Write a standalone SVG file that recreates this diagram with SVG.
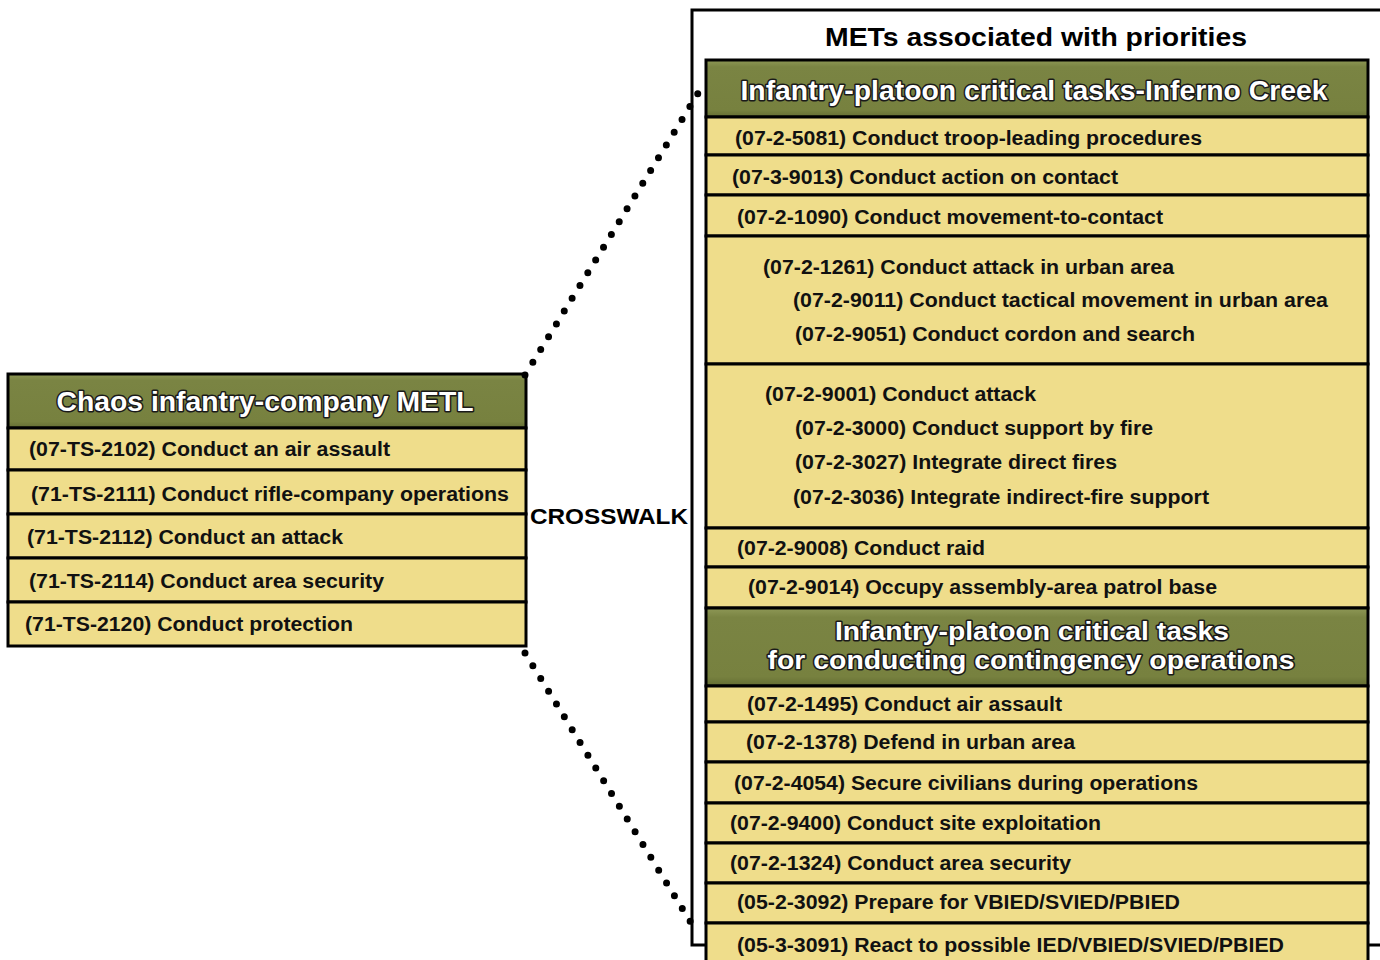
<svg xmlns="http://www.w3.org/2000/svg" width="1380" height="960" viewBox="0 0 1380 960">
  <defs>
    <linearGradient id="olive" x1="0" y1="0" x2="0" y2="1">
      <stop offset="0" stop-color="#8E9856"/>
      <stop offset="0.12" stop-color="#7A8443"/>
      <stop offset="0.88" stop-color="#77813F"/>
      <stop offset="1" stop-color="#646D33"/>
    </linearGradient>
    <style>
      .cell { fill: #EFDD8B; stroke: #000; stroke-width: 3; }
      .hdr { fill: url(#olive); stroke: #000; stroke-width: 3; }
      .frame { fill: none; stroke: #000; stroke-width: 3; }
      .t { font-family: "Liberation Sans", Arial, sans-serif; font-weight: bold; font-size: 20px; fill: #111; }
      .h { font-family: "Liberation Sans", Arial, sans-serif; font-weight: bold; font-size: 28px; fill: #fff; stroke: #1a1a1a; stroke-width: 3px; stroke-linejoin: round; paint-order: stroke; text-anchor: middle; }
      .h2 { font-size: 26px; }
      .title { font-family: "Liberation Sans", Arial, sans-serif; font-weight: bold; font-size: 26px; fill: #000; text-anchor: middle; }
      .lbl { font-family: "Liberation Sans", Arial, sans-serif; font-weight: bold; font-size: 22px; fill: #000; }
      .dots { fill: none; stroke: #000; stroke-width: 7; stroke-linecap: round; stroke-dasharray: 0 15; }
    </style>
  </defs>
  <rect width="1380" height="960" fill="#fff"/>

  <!-- outer frame around the platoon task column -->
  <g id="frame">
    <rect class="frame" x="692" y="10" width="700" height="935"/>
    <text class="title" x="1036" y="46" textLength="422" lengthAdjust="spacingAndGlyphs">METs associated with priorities</text>
  </g>

  <!-- company METL -->
  <g id="company-metl">
    <rect class="hdr" x="8" y="374" width="518" height="54"/>
    <text class="h" x="265" y="411" textLength="417" lengthAdjust="spacingAndGlyphs">Chaos infantry-company METL</text>
    <rect class="cell" x="8" y="428" width="518" height="42"/>
    <text class="t" x="29" y="456" textLength="361" lengthAdjust="spacingAndGlyphs">(07-TS-2102) Conduct an air assault</text>
    <rect class="cell" x="8" y="470" width="518" height="44"/>
    <text class="t" x="31" y="501" textLength="478" lengthAdjust="spacingAndGlyphs">(71-TS-2111) Conduct rifle-company operations</text>
    <rect class="cell" x="8" y="514" width="518" height="44"/>
    <text class="t" x="27" y="544" textLength="316" lengthAdjust="spacingAndGlyphs">(71-TS-2112) Conduct an attack</text>
    <rect class="cell" x="8" y="558" width="518" height="44"/>
    <text class="t" x="29" y="588" textLength="355" lengthAdjust="spacingAndGlyphs">(71-TS-2114) Conduct area security</text>
    <rect class="cell" x="8" y="602" width="518" height="44"/>
    <text class="t" x="25" y="631" textLength="328" lengthAdjust="spacingAndGlyphs">(71-TS-2120) Conduct protection</text>
  </g>

  <!-- connectors -->
  <g id="connectors">
    <line class="dots" x1="525" y1="375" x2="705" y2="82"/>
    <line class="dots" x1="525" y1="653" x2="698" y2="934"/>
  </g>

  <g id="crosswalk">
    <text class="lbl" x="530" y="524" textLength="158" lengthAdjust="spacingAndGlyphs">CROSSWALK</text>
  </g>

  <!-- platoon critical tasks: Inferno Creek -->
  <g id="platoon-tasks">
    <rect class="hdr" x="706" y="60" width="662" height="57"/>
    <text class="h" x="1034" y="100" textLength="587" lengthAdjust="spacingAndGlyphs">Infantry-platoon critical tasks-Inferno Creek</text>
    <rect class="cell" x="706" y="117" width="662" height="38"/>
    <text class="t" x="735" y="145" textLength="467" lengthAdjust="spacingAndGlyphs">(07-2-5081) Conduct troop-leading procedures</text>
    <rect class="cell" x="706" y="155" width="662" height="40"/>
    <text class="t" x="732" y="184" textLength="386" lengthAdjust="spacingAndGlyphs">(07-3-9013) Conduct action on contact</text>
    <rect class="cell" x="706" y="195" width="662" height="41"/>
    <text class="t" x="737" y="224" textLength="426" lengthAdjust="spacingAndGlyphs">(07-2-1090) Conduct movement-to-contact</text>
    <rect class="cell" x="706" y="236" width="662" height="128"/>
    <text class="t" x="763" y="274" textLength="411" lengthAdjust="spacingAndGlyphs">(07-2-1261) Conduct attack in urban area</text>
    <text class="t" x="793" y="307" textLength="535" lengthAdjust="spacingAndGlyphs">(07-2-9011) Conduct tactical movement in urban area</text>
    <text class="t" x="795" y="341" textLength="400" lengthAdjust="spacingAndGlyphs">(07-2-9051) Conduct cordon and search</text>
    <rect class="cell" x="706" y="364" width="662" height="164"/>
    <text class="t" x="765" y="401" textLength="271" lengthAdjust="spacingAndGlyphs">(07-2-9001) Conduct attack</text>
    <text class="t" x="795" y="435" textLength="358" lengthAdjust="spacingAndGlyphs">(07-2-3000) Conduct support by fire</text>
    <text class="t" x="795" y="469" textLength="322" lengthAdjust="spacingAndGlyphs">(07-2-3027) Integrate direct fires</text>
    <text class="t" x="793" y="504" textLength="416" lengthAdjust="spacingAndGlyphs">(07-2-3036) Integrate indirect-fire support</text>
    <rect class="cell" x="706" y="528" width="662" height="39"/>
    <text class="t" x="737" y="555" textLength="248" lengthAdjust="spacingAndGlyphs">(07-2-9008) Conduct raid</text>
    <rect class="cell" x="706" y="567" width="662" height="41"/>
    <text class="t" x="748" y="594" textLength="469" lengthAdjust="spacingAndGlyphs">(07-2-9014) Occupy assembly-area patrol base</text>
  </g>

  <!-- platoon critical tasks: contingency operations -->
  <g id="contingency-tasks">
    <rect class="hdr" x="706" y="608" width="662" height="78"/>
    <text class="h h2" x="1032" y="640" textLength="394" lengthAdjust="spacingAndGlyphs">Infantry-platoon critical tasks</text>
    <text class="h h2" x="1031" y="669" textLength="527" lengthAdjust="spacingAndGlyphs">for conducting contingency operations</text>
    <rect class="cell" x="706" y="686" width="662" height="36"/>
    <text class="t" x="747" y="711" textLength="315" lengthAdjust="spacingAndGlyphs">(07-2-1495) Conduct air assault</text>
    <rect class="cell" x="706" y="722" width="662" height="40"/>
    <text class="t" x="746" y="749" textLength="329" lengthAdjust="spacingAndGlyphs">(07-2-1378) Defend in urban area</text>
    <rect class="cell" x="706" y="762" width="662" height="41"/>
    <text class="t" x="734" y="790" textLength="464" lengthAdjust="spacingAndGlyphs">(07-2-4054) Secure civilians during operations</text>
    <rect class="cell" x="706" y="803" width="662" height="40"/>
    <text class="t" x="730" y="830" textLength="371" lengthAdjust="spacingAndGlyphs">(07-2-9400) Conduct site exploitation</text>
    <rect class="cell" x="706" y="843" width="662" height="40"/>
    <text class="t" x="730" y="870" textLength="341" lengthAdjust="spacingAndGlyphs">(07-2-1324) Conduct area security</text>
    <rect class="cell" x="706" y="883" width="662" height="40"/>
    <text class="t" x="737" y="909" textLength="443" lengthAdjust="spacingAndGlyphs">(05-2-3092) Prepare for VBIED/SVIED/PBIED</text>
    <rect class="cell" x="706" y="923" width="662" height="50"/>
    <text class="t" x="737" y="952" textLength="547" lengthAdjust="spacingAndGlyphs">(05-3-3091) React to possible IED/VBIED/SVIED/PBIED</text>
  </g>
</svg>
